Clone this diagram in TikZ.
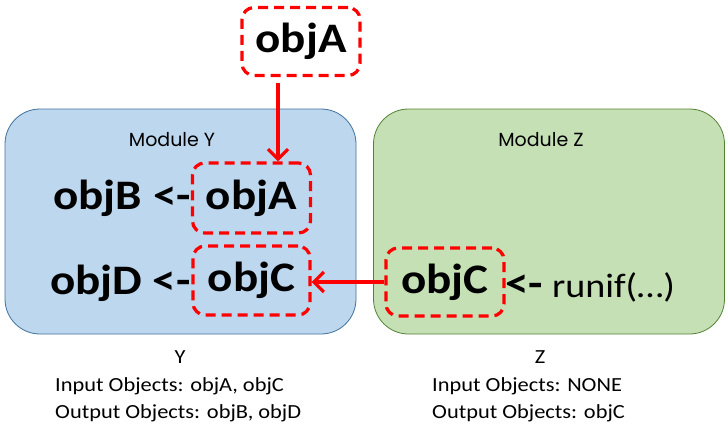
\documentclass[tikz,border=0pt]{standalone}
\usepackage{fontspec}
\setmainfont{Carlito}[FakeStretch=1.12]
\newfontfamily\modfont{Poppins}
\usetikzlibrary{arrows.meta}
\definecolor{yfill}{HTML}{BDD7EE}
\definecolor{ydraw}{HTML}{41719C}
\definecolor{zfill}{HTML}{C5E0B4}
\definecolor{zdraw}{HTML}{548235}
\definecolor{myred}{HTML}{FF0000}
\begin{document}
\begin{tikzpicture}[x=1pt,y=-1pt,
  module/.style={rounded corners=35pt, line width=0.8pt, minimum width=351pt, minimum height=225pt, inner sep=0pt},
  objbox/.style={draw=myred, dash pattern=on 10pt off 6pt, line width=3.2pt, rounded corners=12pt, inner sep=0pt, minimum width=118pt, minimum height=68pt, font=\fontsize{42}{44}\selectfont\bfseries},
  big/.style={font=\fontsize{42}{44}\selectfont\bfseries, inner sep=0pt},
  modlabel/.style={font=\modfont\fontsize{19}{22}\selectfont, inner sep=0pt},
  info/.style={font=\fontsize{20}{24}\selectfont, inner sep=0pt, align=left},
  flow/.style={draw=myred, line width=3.2pt, -{Straight Barb[length=10pt,width=20pt]}},
  ]
\useasboundingbox (0,0) rectangle (728,437);
\node[module, fill=yfill, draw=ydraw] (modY) at (180.5,221.5) {};
\node[module, fill=zfill, draw=zdraw] (modZ) at (549,221.5) {};
\node[modlabel] (labY) at (172,140) {Module Y};
\node[modlabel] (labZ) at (541,140) {Module Z};
\node[objbox] (topA) at (301,41.5) {objA};
\node[objbox, minimum height=70pt] (yA) at (251.5,198) {objA};
\node[objbox, minimum width=117pt, minimum height=69pt] (yC) at (251.5,280.5) {objC};
\node[objbox] (zC) at (445,282) {objC};
\node[big, anchor=base east] (yB) at (191,209) {objB <-};
\node[big, anchor=base east] (yD) at (191,294) {objD <-};
\node[big, anchor=base west, font=\fontsize{42}{44}\selectfont] (zR) at (505,297) {\textbf{<-}\hspace{9pt}{\fontsize{34}{40}\selectfont runif(…)}};
\coordinate (a1) at (278,83);
\draw[flow] (a1) -- (a1 |- yA.north);
\draw[flow] (zC.west) -- (zC.west -| yC.east);
\node[info] (infY) at (180,357) {Y};
\node[info, anchor=base west] (inY) at (55,391) {Input Objects: objA, objC};
\node[info, anchor=base west] (outY) at (55,418) {Output Objects: objB, objD};
\node[info] (infZ) at (540,357) {Z};
\node[info, anchor=base west] (inZ) at (432,391) {Input Objects: NONE};
\node[info, anchor=base west] (outZ) at (432,418) {Output Objects: objC};
\end{tikzpicture}
\end{document}
